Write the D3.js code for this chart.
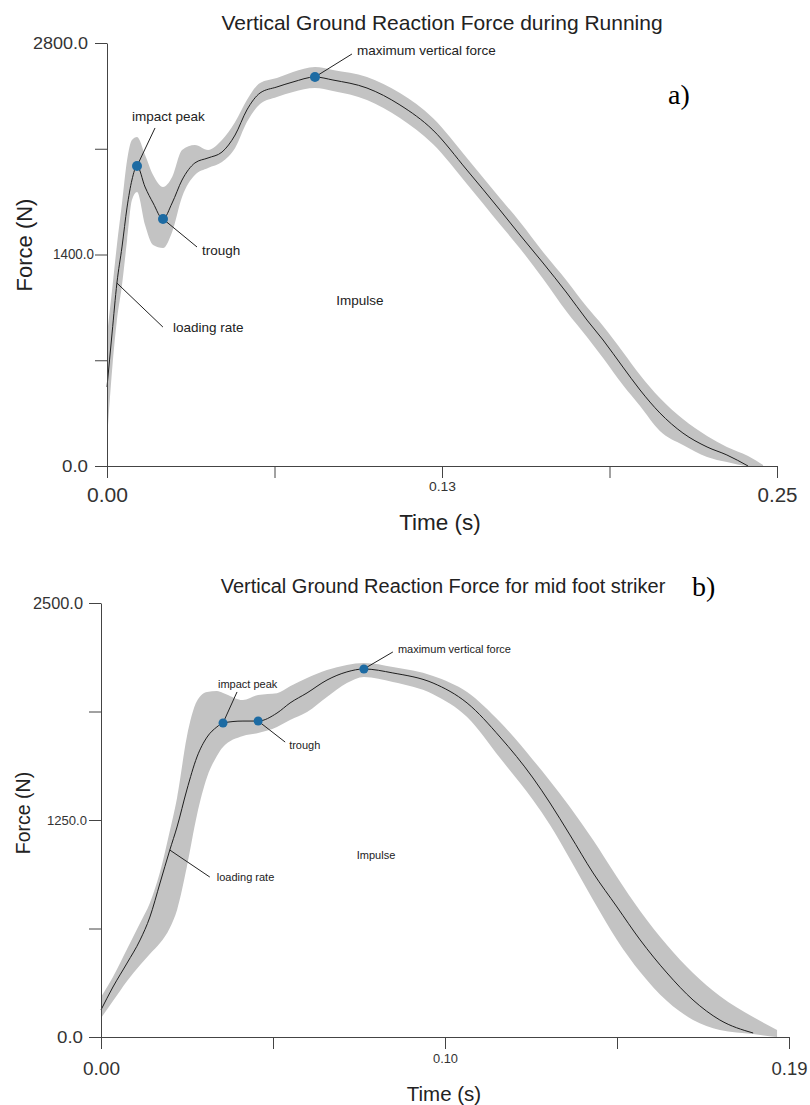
<!DOCTYPE html>
<html>
<head>
<meta charset="utf-8">
<script src="https://cdn.jsdelivr.net/npm/d3@7"></script>
<style>
  body { margin: 0; background: #fff; }
</style>
</head>
<body>
<div id="chart"></div>
<script>
// a) running, mean curve with grey band (N vs s)
var timeA  = [0, 0.0019, 0.0037, 0.0056, 0.0075, 0.0093, 0.0112, 0.0142, 0.0172, 0.0209, 0.0243, 0.0280,
              0.0328, 0.0377, 0.0429, 0.0478, 0.0522, 0.0571, 0.0634, 0.0694, 0.0776, 0.0843, 0.0970, 0.1093,
              0.1216, 0.1343, 0.1466, 0.1541, 0.1627, 0.1716, 0.1791, 0.1851, 0.1925, 0.1989, 0.2063, 0.2149,
              0.2239, 0.2313, 0.2392, 0.2448];
var meanA  = [523, 880, 1211, 1450, 1714, 1893, 1986, 1847, 1741, 1635, 1741, 1893,
              2006, 2039, 2078, 2191, 2357, 2469, 2509, 2542, 2575, 2555, 2502, 2390,
              2224, 1959, 1695, 1529, 1344, 1145, 966, 834, 655, 503, 351, 218,
              126, 73, 0, null];
var upperA = [867, 1165, 1463, 1741, 2025, 2158, 2178, 2059, 1926, 1847, 1913, 2092,
              2125, 2092, 2158, 2277, 2423, 2535, 2568, 2608, 2641, 2621, 2575, 2469,
              2304, 2039, 1774, 1615, 1417, 1225, 1052, 927, 755, 602, 450, 311,
              199, 126, 66, 7];
var lowerA = [172, 635, 966, 1198, 1496, 1761, 1814, 1595, 1463, 1443, 1549, 1781,
              1926, 1973, 2012, 2105, 2277, 2396, 2443, 2476, 2502, 2482, 2423, 2304,
              2131, 1867, 1600, 1440, 1240, 1020, 854, 715, 536, 397, 232, 139,
              60, 26, 0, 0];
var xTicksA  = [0, 0.0625, 0.125, 0.1875, 0.25];
var xLabelsA = ["0.00", "", "0.13", "", "0.25"];
var yTicksA  = [0, 700, 1400, 2100, 2800];
var yLabelsA = ["0.0", "", "1400.0", "", "2800.0"];
// impact peak, trough, maximum vertical force, loading rate
var noteTimeA  = [0.0112, 0.0209, 0.0776, 0.0037];
var noteForceA = [1986, 1635, 2575, 1211];

// b) mid foot striker
var timeB  = [0, 0.0033, 0.0072, 0.0108, 0.0135, 0.0163, 0.0190, 0.0210, 0.0237, 0.0265,
              0.0293, 0.0320, 0.0337, 0.0392, 0.0434, 0.0486, 0.0522, 0.0569, 0.0624, 0.0679,
              0.0726, 0.0806, 0.0917, 0.1011, 0.1102, 0.1193, 0.1240, 0.1295, 0.1359, 0.1425,
              0.1489, 0.1563, 0.1635, 0.1709, 0.1801, 0.1867];
var meanB  = [156, 288, 426, 559, 691, 887, 1077, 1210, 1423, 1613,
              1728, 1786, 1809, 1820, 1820, 1866, 1924, 1982, 2056, 2103,
              2120, 2097, 2039, 1924, 1728, 1492, 1348, 1164, 945, 749,
              559, 369, 213, 98, 23, null];
var upperB = [230, 346, 507, 657, 772, 950, 1187, 1377, 1728, 1935,
              1987, 1993, 1982, 1941, 1970, 1980, 2020, 2068, 2114, 2143,
              2154, 2131, 2080, 1987, 1814, 1596, 1475, 1325, 1135, 922,
              726, 530, 369, 236, 115, 40];
var lowerB = [109, 207, 323, 415, 478, 541, 628, 732, 979, 1279,
              1498, 1619, 1671, 1734, 1751, 1786, 1826, 1872, 1959, 2039,
              2074, 2045, 1975, 1843, 1607, 1365, 1221, 1025, 789, 559,
              374, 207, 98, 40, 17, 0];
var xTicksB  = [0, 0.0475, 0.095, 0.1425, 0.19];
var xLabelsB = ["0.00", "", "0.10", "", "0.19"];
var yTicksB  = [0, 625, 1250, 1875, 2500];
var yLabelsB = ["0.0", "", "1250.0", "", "2500.0"];
var noteTimeB  = [0.0337, 0.0434, 0.0726, 0.0190];
var noteForceB = [1809, 1820, 2120, 1077];

var noteText = ["impact peak", "trough", "maximum vertical force", "loading rate"];

var width = 810;
var height = 1105;
var font = "Liberation Sans, Arial, sans-serif";

var svg = d3.select("#chart").append("svg")
    .attr("width", width)
    .attr("height", height)
    .style("background-color", "white");

function drawPanel(p) {
    var x = d3.scaleLinear().domain(p.xDomain).range([p.left, p.right]);
    var y = d3.scaleLinear().domain(p.yDomain).range([p.bottom, p.top]);

    var rows = p.time.map(function(t, i) {
        return { t: t, mean: p.mean[i], up: p.upper[i], lo: p.lower[i] };
    });

    // grey band
    svg.append("path")
        .datum(rows)
        .attr("fill", "#c3c3c3")
        .attr("d", d3.area()
            .x(function(d) { return x(d.t); })
            .y0(function(d) { return y(d.lo); })
            .y1(function(d) { return y(d.up); })
            .curve(d3.curveMonotoneX));

    // mean curve
    svg.append("path")
        .datum(rows)
        .attr("fill", "none")
        .attr("stroke", "#1e1e1e")
        .attr("stroke-width", 1)
        .attr("d", d3.line()
            .defined(function(d) { return d.mean != null; })
            .x(function(d) { return x(d.t); })
            .y(function(d) { return y(d.mean); })
            .curve(d3.curveMonotoneX));

    // Y axis
    var gy = svg.append("g")
        .attr("transform", "translate(" + p.left + ",0)")
        .call(d3.axisLeft(y).tickValues(p.yTicks).tickSize(12).tickSizeOuter(0)
            .tickFormat(function(d, i) { return p.yLabels[i]; }));
    gy.attr("font-family", font);
    gy.select(".domain").attr("stroke", "#444");
    gy.selectAll(".tick line").attr("stroke", "#444");
    gy.selectAll(".tick text").each(function(d, i) {
        var big = (i == 0 || i == p.yTicks.length - 1);
        d3.select(this)
            .attr("fill", "#333")
            .attr("font-size", big ? p.yBig : p.ySmall)
            .attr("x", big ? p.yBigX : p.ySmallX)
            .attr("textLength", p.yLen[i] || null)
            .attr("lengthAdjust", "spacingAndGlyphs");
    });

    // X axis
    var gx = svg.append("g")
        .attr("transform", "translate(0," + p.bottom + ")")
        .call(d3.axisBottom(x).tickValues(p.xTicks).tickSize(12).tickSizeOuter(0)
            .tickFormat(function(d, i) { return p.xLabels[i]; }));
    gx.attr("font-family", font);
    gx.select(".domain").attr("stroke", "#444");
    gx.selectAll(".tick line").attr("stroke", "#444");
    gx.selectAll(".tick text").each(function(d, i) {
        var big = (i == 0 || i == p.xTicks.length - 1);
        d3.select(this)
            .attr("fill", "#333")
            .attr("dy", 0)
            .attr("font-size", big ? p.xBig : p.xSmall)
            .attr("y", big ? p.xBigY : p.xSmallY)
            .attr("textLength", p.xLen[i] || null)
            .attr("lengthAdjust", "spacingAndGlyphs");
    });

    // axis titles
    svg.append("text")
        .attr("x", (p.left + p.right) / 2 + p.xTitleShift)
        .attr("y", p.xTitleY)
        .attr("text-anchor", "middle")
        .attr("font-family", font)
        .attr("font-size", p.xTitleFont)
        .attr("fill", "#222")
        .text("Time (s)");

    svg.append("text")
        .attr("transform", "translate(" + p.yTitleX + "," + p.yTitleMid + ") rotate(-90)")
        .attr("text-anchor", "middle")
        .attr("font-family", font)
        .attr("font-size", p.yTitleFont)
        .attr("fill", "#222")
        .text("Force (N)");

    // chart title and panel letter
    svg.append("text")
        .attr("x", p.titleX)
        .attr("y", p.titleY)
        .attr("text-anchor", "middle")
        .attr("font-family", font)
        .attr("font-size", p.titleFont)
        .attr("fill", "#222")
        .text(p.title);

    svg.append("text")
        .attr("x", p.letterX)
        .attr("y", p.letterY)
        .attr("font-family", "Liberation Serif, Times New Roman, serif")
        .attr("font-size", 28)
        .attr("fill", "#000")
        .text(p.letter);

    // annotations: leader lines + labels
    p.noteTime.forEach(function(t, i) {
        var cx = x(t), cy = y(p.noteForce[i]);
        var o = p.noteOffsets[i];
        svg.append("line")
            .attr("x1", cx).attr("y1", cy)
            .attr("x2", cx + o[0]).attr("y2", cy + o[1])
            .attr("stroke", "#222")
            .attr("stroke-width", 1);
        svg.append("text")
            .attr("x", cx + o[2])
            .attr("y", cy + o[3])
            .attr("font-family", font)
            .attr("font-size", p.noteFont)
            .attr("fill", "#222")
            .text(noteText[i]);
    });

    svg.append("text")
        .attr("x", p.impulseX)
        .attr("y", p.impulseY)
        .attr("text-anchor", "middle")
        .attr("font-family", font)
        .attr("font-size", p.noteFont)
        .attr("fill", "#222")
        .text("Impulse");

    // blue event markers (first three notes)
    svg.selectAll(null)
        .data(p.noteTime.slice(0, 3))
        .enter()
        .append("circle")
            .attr("cx", function(d) { return x(d); })
            .attr("cy", function(d, i) { return y(p.noteForce[i]); })
            .attr("r", p.dotR)
            .attr("fill", "#1d6ba3");
}

drawPanel({
    time: timeA, mean: meanA, upper: upperA, lower: lowerA,
    xDomain: [0, 0.25], yDomain: [0, 2800],
    left: 107, right: 777, top: 43, bottom: 466,
    xTicks: xTicksA, xLabels: xLabelsA, yTicks: yTicksA, yLabels: yLabelsA,
    yBig: 17, ySmall: 14, yBigX: -19, ySmallX: -13, yLen: [26, null, 41, null, 55],
    xBig: 20, xSmall: 12, xBigY: 36, xSmallY: 25, xLen: [41, null, 27, null, 40],
    xTitleFont: 22.5, yTitleFont: 22, xTitleShift: -2, xTitleY: 530, yTitleX: 32, yTitleMid: 245,
    title: "Vertical Ground Reaction Force during Running", titleX: 442, titleY: 30, titleFont: 21,
    letter: "a)", letterX: 668, letterY: 104,
    noteTime: noteTimeA, noteForce: noteForceA, noteFont: 13.5, dotR: 5,
    noteOffsets: [[18, -38, -5, -45], [34, 28, 39, 36], [37, -23, 42, -22], [46, 44, 56, 49]],
    impulseX: 360, impulseY: 305
});

drawPanel({
    time: timeB, mean: meanB, upper: upperB, lower: lowerB,
    xDomain: [0, 0.19], yDomain: [0, 2500],
    left: 101, right: 789, top: 603, bottom: 1037,
    xTicks: xTicksB, xLabels: xLabelsB, yTicks: yTicksB, yLabels: yLabelsB,
    yBig: 16, ySmall: 13, yBigX: -18, ySmallX: -14, yLen: [26, null, 40, null, 50],
    xBig: 19, xSmall: 12, xBigY: 38, xSmallY: 26, xLen: [37, null, 25, null, 36],
    xTitleFont: 20.5, yTitleFont: 19.5, xTitleShift: -1, xTitleY: 1101, yTitleX: 30, yTitleMid: 813,
    title: "Vertical Ground Reaction Force for mid foot striker", titleX: 443, titleY: 593, titleFont: 20,
    letter: "b)", letterX: 692, letterY: 596,
    noteTime: noteTimeB, noteForce: noteForceB, noteFont: 11, dotR: 4.5,
    noteOffsets: [[14, -31, -5, -35], [27, 21, 31, 28], [29, -17, 34, -16], [40, 27, 47, 31]],
    impulseX: 376, impulseY: 859
});
</script>
</body>
</html>
